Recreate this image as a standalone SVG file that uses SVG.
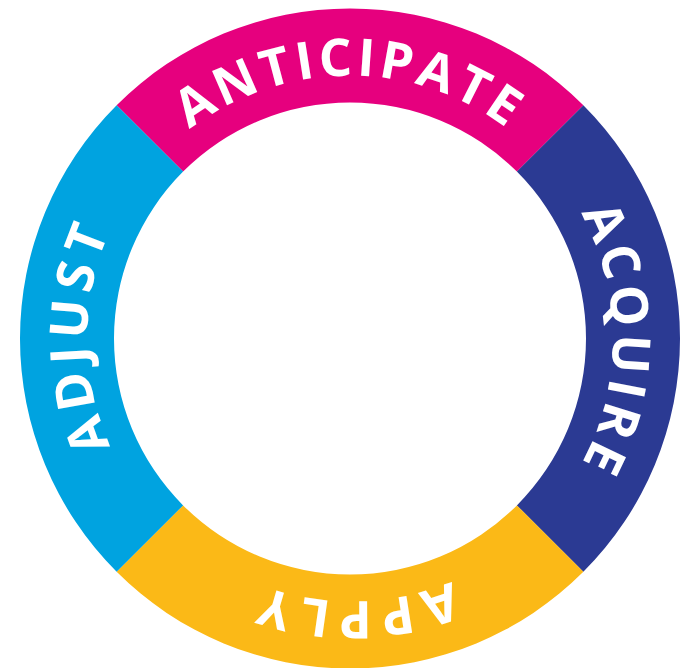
<svg xmlns="http://www.w3.org/2000/svg" width="688" height="668" viewBox="0 0 688 668">
  <defs>
    <style>
      .lbl { font-family: "Open Sans", "Liberation Sans", sans-serif; font-weight: 700; font-size: 52px; fill: #ffffff; text-anchor: middle; letter-spacing: 4px; }
      .mid { letter-spacing: 6px; }
      .wide { letter-spacing: 7px; }
    </style>
    <path id="ring" d="M164.74,523.76 A262,262 0 1,1 535.26,153.24 A262,262 0 1,1 164.74,523.76" fill="none"/>
  </defs>
  <rect width="688" height="668" fill="#ffffff"/>
  <g id="anticipate">
    <path d="M116.65,105.15 A330,330 0 0,1 583.35,105.15 L516.88,171.62 A236,236 0 0,0 183.12,171.62 Z" fill="#E6007E"/>
    <text class="lbl"><textPath href="#ring" startOffset="37.5%">ANTICIPATE</textPath></text>
  </g>
  <g id="acquire">
    <path d="M583.35,105.15 A330,330 0 0,1 583.35,571.85 L516.88,505.38 A236,236 0 0,0 516.88,171.62 Z" fill="#2B3A93"/>
    <text class="lbl" style="letter-spacing:5px"><textPath href="#ring" startOffset="62.6%">ACQUIRE</textPath></text>
  </g>
  <g id="apply">
    <path d="M583.35,571.85 A330,330 0 0,1 116.65,571.85 L183.12,505.38 A236,236 0 0,0 516.88,505.38 Z" fill="#FBB917"/>
    <text class="lbl wide"><textPath href="#ring" startOffset="87.2%">APPLY</textPath></text>
  </g>
  <g id="adjust">
    <path d="M116.65,571.85 A330,330 0 0,1 116.65,105.15 L183.12,171.62 A236,236 0 0,0 183.12,505.38 Z" fill="#00A3E0"/>
    <text class="lbl mid"><textPath href="#ring" startOffset="12.6%">ADJUST</textPath></text>
  </g>
</svg>
